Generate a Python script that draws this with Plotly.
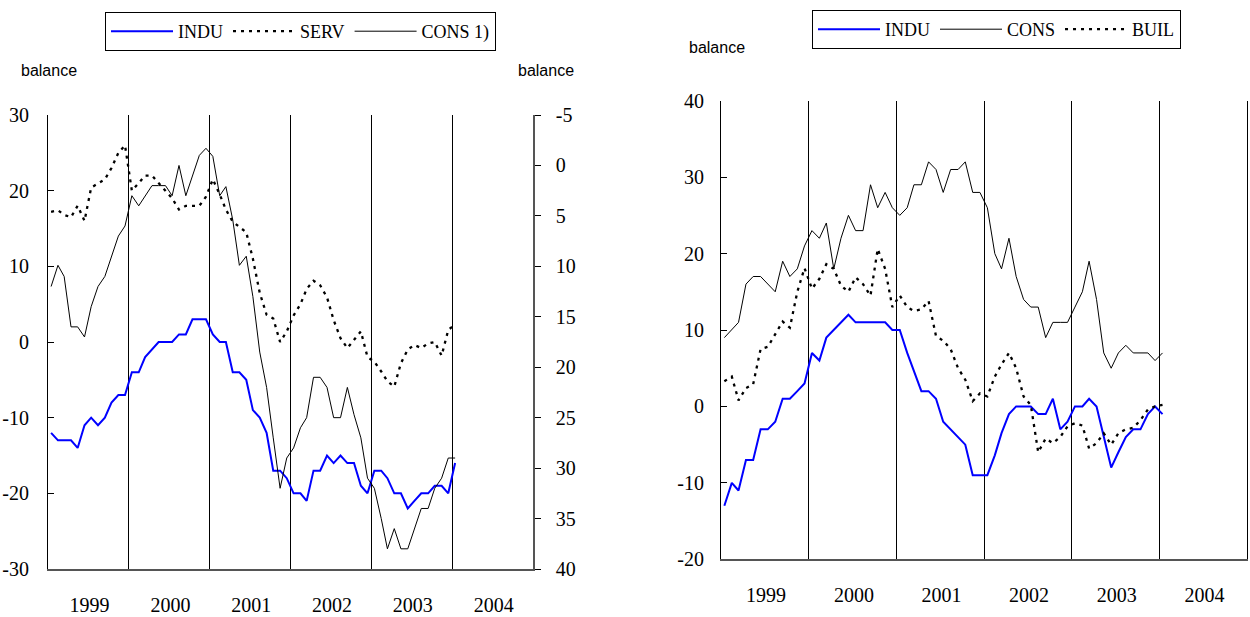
import pandas as pd
import plotly.graph_objects as go

# ---------------- data ----------------
dates = pd.date_range("1999-01-01", periods=61, freq="MS") + pd.Timedelta(days=14)
years = ["1999", "2000", "2001", "2002", "2003", "2004"]
year_mid = ["1999-07-08", "2000-07-08", "2001-07-08", "2002-07-08", "2003-07-08", "2004-07-08"]

left_ticks = [-30, -20, -10, 0, 10, 20, 30]
left_ticktext = ["-30", "-20", "-10", "0", "10", "20", "30"]
inv_ticks = [-5, 0, 5, 10, 15, 20, 25, 30, 35, 40]
inv_ticktext = ["-5", "0", "5", "10", "15", "20", "25", "30", "35", "40"]
right_ticks = [-20, -10, 0, 10, 20, 30, 40]
right_ticktext = ["-20", "-10", "0", "10", "20", "30", "40"]

# left chart (left scale: INDU, SERV; right inverted scale: CONS 1))
indu_left = [-12, -13, -13, -13, -14, -11, -10, -11, -10, -8, -7, -7,
             -4, -4, -2, -1, 0, 0, 0, 1, 1, 3, 3, 3,
             1, 0, 0, -4, -4, -5, -9, -10, -12, -17, -17, -18,
             -20, -20, -21, -17, -17, -15, -16, -15, -16, -16, -19, -20,
             -17, -17, -18, -20, -20, -22, -21, -20, -20, -19, -19, -20,
             -16]
serv_left = [17.2, 17.4, 16.8, 16.5, 18, 16, 20.4, 21, 21.5, 23, 25, 26,
             20, 21, 22, 22, 21, 20, 19, 17.5, 18, 18, 18, 19.2,
             21.5, 19.5, 17.5, 15.9, 15.2, 14.5, 11, 6.5, 3.6, 3.1, 0, 1.4,
             3.5, 5, 7, 8.1, 7.5, 5.9, 2.9, 0.5, -0.8, 0.3, 1.4, -2,
             -2.6, -3.9, -5.2, -5.9, -2.8, -1, -0.4, -0.8, -0.2, 0, -1.8, 1.6,
             2.3]
cons_left = [12, 9.9, 11, 16, 16, 17, 14, 12, 11, 9, 7, 6,
             3, 4, 3, 2, 2, 2, 3, 0, 3, 1, -1, -1.7,
             -0.9, 3, 2.1, 5.4, 9.9, 9, 13, 18.5, 22, 27, 32, 29,
             28, 26, 25, 21, 21, 22, 25, 25, 22, 24.7, 27, 31,
             32, 35, 38, 36, 38, 38, 36, 34, 34, 32, 31, 29,
             29]

# right chart
indu_right = [-13, -10, -11, -7, -7, -3, -3, -2, 1, 1, 2, 3,
              7, 6, 9, 10, 11, 12, 11, 11, 11, 11, 11, 10,
              10, 7, 4.6, 2, 2, 1, -2, -3, -4, -5, -9, -9,
              -9, -6.4, -3.5, -1, 0, 0, 0, -1, -1, 1, -3, -2,
              0, 0, 1, 0, -4, -8, -6, -4, -3, -3, -1, 0,
              -1]
cons_right = [9, 10, 11, 16, 17, 17, 16, 15, 19, 17, 18, 21,
              23, 22, 24, 18, 22, 25, 23, 23, 29, 26, 28, 26,
              25, 26, 29, 29, 32, 31, 28, 31, 31, 32, 28, 28,
              26, 20, 18, 22, 17, 14, 13, 13, 9, 11, 11, 11,
              13, 15, 19, 14, 7, 5, 7, 8, 7, 7, 7, 6,
              7]
buil_right = [3.3, 3.9, 0.8, 2.4, 2.9, 7.5, 7.8, 9.5, 11.1, 10.3, 15, 18.1,
              15.4, 16.7, 18.6, 18, 15.8, 15, 16.9, 16, 14.5, 20.6, 18, 13,
              14.5, 13, 12.5, 12.7, 13.8, 9.2, 8.6, 7.5, 5, 3.5, 0.7, 1.7,
              1.3, 3.9, 5.5, 7, 5, 1.3, 0.2, -6, -4.2, -4.8, -4, -2.6,
              -2.2, -2.5, -5.5, -4.8, -3.5, -5, -3.5, -3, -2.8, -1.8, -0.4, 0,
              0.2]

# ---------------- figure ----------------
W, H = 1250, 617
SERIF = "Liberation Serif"
SANS = "Liberation Sans"
BLUE = "#0000FF"
DOT = "3px,5px"

fig = go.Figure()

fig.add_trace(go.Scatter(x=dates, y=indu_left, name="INDU", mode="lines",
                         line=dict(color=BLUE, width=2), xaxis="x", yaxis="y",
                         legend="legend"))
fig.add_trace(go.Scatter(x=dates, y=serv_left, name="SERV", mode="lines",
                         line=dict(color="black", width=2.3, dash=DOT),
                         xaxis="x", yaxis="y", legend="legend"))
fig.add_trace(go.Scatter(x=dates, y=cons_left, name="CONS 1)", mode="lines",
                         line=dict(color="black", width=1), xaxis="x", yaxis="y2",
                         legend="legend"))

fig.add_trace(go.Scatter(x=dates, y=indu_right, name="INDU", mode="lines",
                         line=dict(color=BLUE, width=2), xaxis="x2", yaxis="y3",
                         legend="legend2"))
fig.add_trace(go.Scatter(x=dates, y=cons_right, name="CONS", mode="lines",
                         line=dict(color="black", width=1), xaxis="x2", yaxis="y3",
                         legend="legend2"))
fig.add_trace(go.Scatter(x=dates, y=buil_right, name="BUIL", mode="lines",
                         line=dict(color="black", width=2.3, dash=DOT),
                         xaxis="x2", yaxis="y3", legend="legend2"))

TICKFONT = dict(family=SERIF, size=20, color="black")

def xaxis_cfg(domain, anchor):
    return dict(domain=domain, anchor=anchor, type="date", automargin=False,
                range=["1999-01-01", "2005-01-01"],
                tickmode="array", tickvals=year_mid, ticktext=years,
                ticks="", showgrid=False, zeroline=False,
                showline=True, linecolor="#555555", linewidth=1.5,
                tickfont=TICKFONT, ticklabelstandoff=17,
                minor=dict(tickmode="linear", tick0="1999-01-01", dtick="M12",
                           showgrid=True, gridcolor="black", gridwidth=1, ticks=""))

left_x = [48 / W, 533 / W]
left_y = [1 - 569 / H, 1 - 115 / H]
right_x = [721 / W, 1247 / W]
right_y = [1 - 559.3 / H, 1 - 100.7 / H]

legend_common = dict(orientation="h", xanchor="left", yanchor="top",
                     bordercolor="black", borderwidth=1, bgcolor="white",
                     font=dict(family=SERIF, size=18, color="black"),
                     itemwidth=62)

fig.update_layout(
    width=W, height=H,
    margin=dict(l=0, r=0, t=0, b=0, autoexpand=False),
    paper_bgcolor="white", plot_bgcolor="white",
    xaxis=xaxis_cfg(left_x, "y"),
    xaxis2=xaxis_cfg(right_x, "y3"),
    yaxis=dict(domain=left_y, anchor="x", range=[-30, 30], automargin=False,
               tickmode="array", tickvals=left_ticks, ticktext=left_ticktext,
               showgrid=False, zeroline=False, showline=True, linecolor="black",
               ticks="inside", ticklen=6, tickcolor="black",
               tickfont=TICKFONT, ticklabelstandoff=14),
    yaxis2=dict(domain=left_y, anchor="x", overlaying="y", side="right",
                range=[40, -5], automargin=False,
                tickmode="array", tickvals=inv_ticks, ticktext=inv_ticktext,
                showgrid=False, zeroline=False,
                showline=True, linecolor="#555555", linewidth=1.5,
                ticks="outside", ticklen=6, tickcolor="black",
                tickfont=TICKFONT, ticklabelstandoff=11),
    yaxis4=dict(domain=left_y, anchor="x", overlaying="y", side="right",
                range=[40, -5], automargin=False,
                tickmode="array", tickvals=inv_ticks,
                showgrid=False, zeroline=False,
                showline=False, ticks="inside", ticklen=6, tickcolor="black",
                showticklabels=False),
    yaxis3=dict(domain=right_y, anchor="x2", range=[-20, 40], automargin=False,
                tickmode="array", tickvals=right_ticks, ticktext=right_ticktext,
                showgrid=False, zeroline=False, showline=True, linecolor="black",
                mirror=True,
                ticks="inside", ticklen=6, tickcolor="black",
                tickfont=TICKFONT, ticklabelstandoff=12),
    legend=dict(x=105 / W, y=1 - 12 / H, **legend_common),
    legend2=dict(x=812 / W, y=1 - 10 / H, **legend_common),
    annotations=[
        dict(text="balance", x=49 / W, y=1 - 71 / H, xref="paper", yref="paper",
             showarrow=False, xanchor="center", yanchor="middle",
             font=dict(family=SANS, size=16, color="black")),
        dict(text="balance", x=546 / W, y=1 - 71 / H, xref="paper", yref="paper",
             showarrow=False, xanchor="center", yanchor="middle",
             font=dict(family=SANS, size=16, color="black")),
        dict(text="balance", x=717 / W, y=1 - 48 / H, xref="paper", yref="paper",
             showarrow=False, xanchor="center", yanchor="middle",
             font=dict(family=SANS, size=16, color="black")),
    ],
    showlegend=True,
)

fig.write_html("out.html",
               config={"displayModeBar": False},
               post_script="document.body.style.margin='0px';"
                           "document.body.style.overflow='hidden';")
